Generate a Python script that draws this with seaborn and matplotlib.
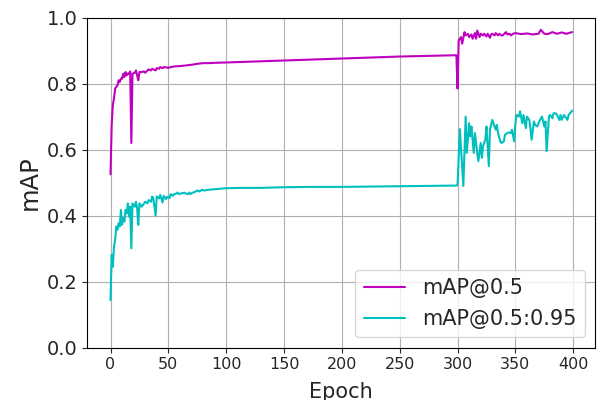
import pandas as pd
import matplotlib
matplotlib.use('Agg')
import matplotlib.pyplot as plt
import seaborn as sns

# mAP@0.5 (epoch, valor)
ep_map50 = [0, 1, 2, 3, 4, 6, 7, 8, 9, 10, 11, 12, 13, 14, 15, 16, 17, 18, 19, 21, 22, 23, 24, 25,
            27, 29, 30, 32, 33, 35, 36, 37, 39, 40, 42, 43, 45, 46, 50, 55, 60, 65, 70, 75, 80, 85,
            90, 100, 125, 150, 175, 200, 225, 250, 275, 299,
            300, 301, 303, 304, 306, 307, 309, 310, 312, 313, 315, 316, 317, 319, 320, 322, 323, 325,
            326, 328, 329, 330, 332, 333, 335, 336, 338, 339, 341, 342, 343, 345, 346, 348, 350, 355,
            360, 365, 370, 372, 375, 378, 382, 386, 390, 394, 399]
val_map50 = [0.525, 0.674, 0.735, 0.755, 0.785, 0.795, 0.81, 0.805, 0.815, 0.815, 0.83, 0.82, 0.835,
             0.825, 0.83, 0.83, 0.837, 0.62, 0.83, 0.833, 0.84, 0.825, 0.81, 0.835,
             0.835, 0.837, 0.833, 0.84, 0.843, 0.84, 0.845, 0.843, 0.84, 0.847, 0.845, 0.85, 0.847,
             0.85, 0.848, 0.852, 0.853, 0.855, 0.857, 0.86, 0.862, 0.862,
             0.863, 0.864, 0.867, 0.870, 0.873, 0.876, 0.879, 0.882, 0.884, 0.886,
             0.785, 0.931, 0.941, 0.921, 0.956, 0.946, 0.951, 0.941, 0.949, 0.936, 0.953, 0.936,
             0.961, 0.941, 0.951, 0.946, 0.951, 0.943,
             0.951, 0.939, 0.949, 0.951, 0.946, 0.953, 0.946, 0.951, 0.946, 0.946, 0.953, 0.956,
             0.949, 0.951, 0.946, 0.951, 0.953, 0.950,
             0.952, 0.949, 0.951, 0.963, 0.951, 0.950, 0.956, 0.951, 0.955, 0.951, 0.956]

# mAP@0.5:0.95
ep_map95 = [0, 1, 2, 3, 4, 5, 6, 7, 8, 9, 10, 11, 12, 13, 14, 15, 16, 17, 18, 19, 20, 21, 22, 23,
            24, 25, 26, 27, 29, 30, 32, 33, 35, 36, 37, 39, 40, 42, 43, 45, 46, 48, 49, 51, 52, 54,
            55, 57, 58, 59, 61, 62, 64, 65, 67, 68, 69, 71, 72, 74, 75, 77, 78, 79, 81, 84, 87, 89,
            94, 100, 115, 130, 150, 175, 200, 225, 250, 275, 299,
            300, 302, 305, 307, 308, 310, 311, 312, 314, 315, 317, 318, 320, 321, 322, 324, 325, 327,
            328, 330, 331, 333, 334, 335, 337, 338, 340, 341, 343, 344, 346, 347, 349, 350, 351, 353,
            354, 356, 357, 359, 360, 362, 363, 364, 366, 367, 369, 370, 372, 373, 375, 376, 377, 379,
            380, 382, 383, 385, 386, 388, 389, 390, 392, 393, 395, 396, 398, 399]
val_map95 = [0.144, 0.281, 0.245, 0.306, 0.326, 0.367, 0.357, 0.377, 0.367, 0.417, 0.372, 0.392,
             0.382, 0.417, 0.407, 0.437, 0.397, 0.427, 0.301, 0.437, 0.432, 0.427, 0.442, 0.422,
             0.372, 0.437, 0.432, 0.427, 0.437, 0.442, 0.437, 0.447, 0.442, 0.458, 0.452, 0.40,
             0.458, 0.452, 0.463, 0.44, 0.46, 0.45, 0.457, 0.453, 0.465, 0.46,
             0.465, 0.467, 0.47, 0.465, 0.467, 0.468, 0.469, 0.467, 0.465, 0.47, 0.465, 0.47, 0.47,
             0.474, 0.476, 0.473, 0.476, 0.478, 0.476, 0.478, 0.479, 0.48,
             0.481, 0.483, 0.484, 0.484, 0.486, 0.487, 0.487, 0.488, 0.489, 0.490, 0.491,
             0.493, 0.662, 0.49, 0.70, 0.59, 0.68, 0.64, 0.67, 0.59, 0.65, 0.59, 0.565, 0.62, 0.575,
             0.61, 0.63, 0.67, 0.55, 0.66, 0.69, 0.68, 0.66, 0.675, 0.65, 0.625, 0.62, 0.625, 0.645,
             0.65, 0.652, 0.65, 0.66, 0.625, 0.68, 0.705, 0.70, 0.716, 0.68, 0.705, 0.665, 0.70,
             0.69, 0.665, 0.63, 0.685, 0.675, 0.67, 0.68, 0.695, 0.70, 0.67, 0.685, 0.595, 0.70,
             0.705, 0.695, 0.71, 0.71, 0.705, 0.69, 0.705, 0.69, 0.705, 0.70, 0.69, 0.705, 0.713,
             0.718]

df = pd.concat([
    pd.DataFrame({'Epoch': ep_map50, 'mAP': val_map50, 'serie': 'mAP@0.5'}),
    pd.DataFrame({'Epoch': ep_map95, 'mAP': val_map95, 'serie': 'mAP@0.5:0.95'}),
], ignore_index=True)

sns.set_style('ticks')
plt.rcParams['font.family'] = ['DejaVu Sans']

fig, ax = plt.subplots(figsize=(6.03, 4.0), dpi=100)
fig.subplots_adjust(left=0.145, right=0.987, top=0.956, bottom=0.131)

sns.lineplot(data=df, x='Epoch', y='mAP', hue='serie', estimator=None,
             palette={'mAP@0.5': 'm', 'mAP@0.5:0.95': 'c'}, linewidth=1.5, ax=ax)

ax.set_ylim(0, 1.0)
ax.set_yticks([0, 0.2, 0.4, 0.6, 0.8, 1.0])
ax.set_xticks(range(0, 401, 50))
ax.grid(True, color='#b0b0b0', linewidth=0.8)
for s in ax.spines.values():
    s.set_color('black')
    s.set_linewidth(0.8)
ax.tick_params(axis='y', labelsize=14)
ax.tick_params(axis='x', labelsize=11.5)
ax.set_xlabel('Epoch', fontsize=15, labelpad=7)
ax.set_ylabel('mAP', fontsize=17.5)
ax.legend(loc='lower right', fontsize=15, title=None)

fig.savefig('out.png', dpi=100)
